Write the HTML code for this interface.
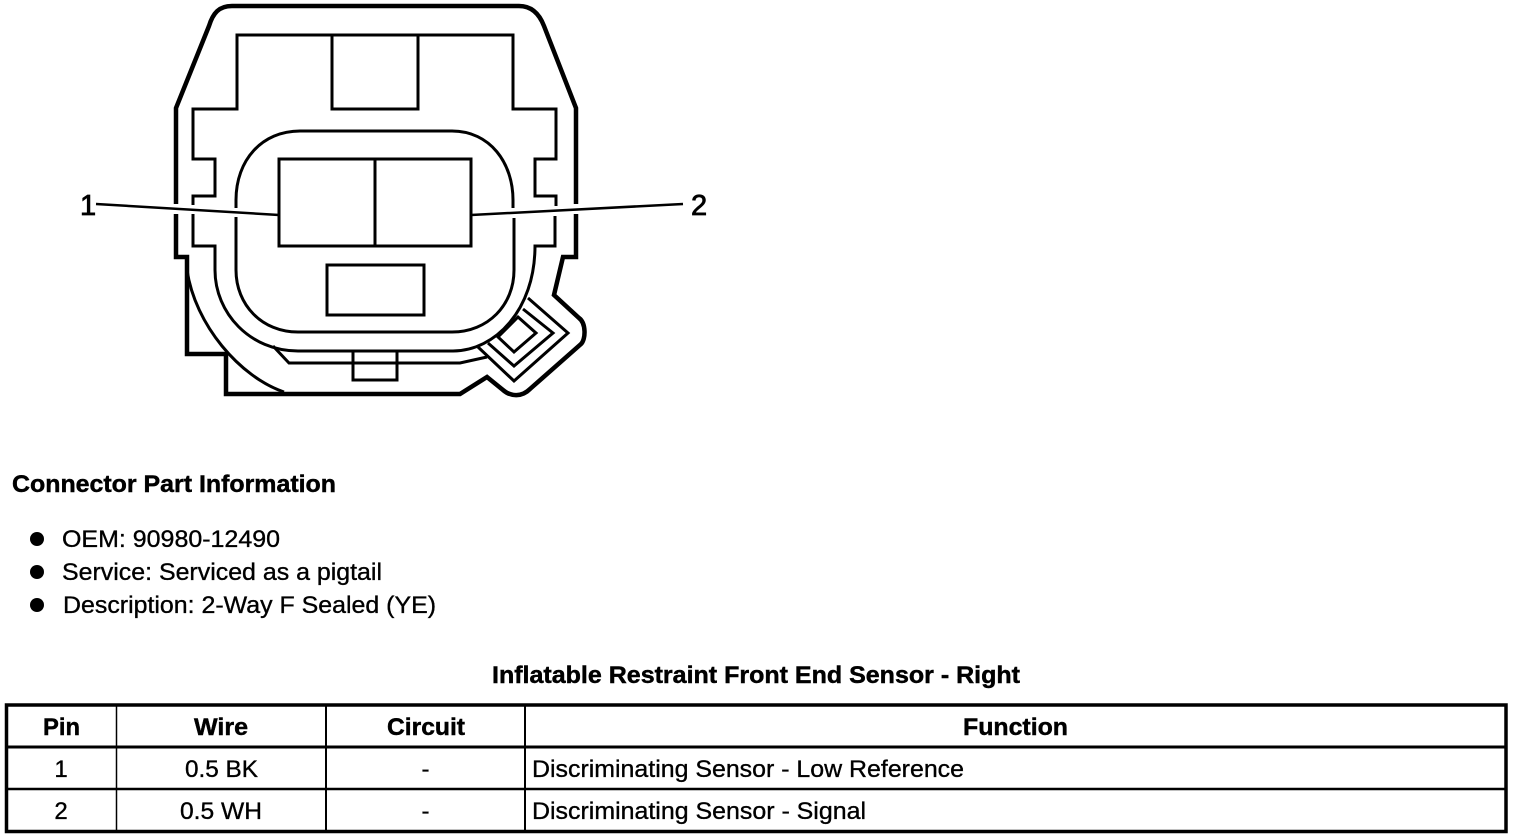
<!DOCTYPE html>
<html>
<head>
<meta charset="utf-8">
<style>
html,body{margin:0;padding:0;background:#fff;width:1520px;height:838px;overflow:hidden}
svg{display:block}
text{font-family:"Liberation Sans",sans-serif;font-size:24px;fill:#000;stroke:#000;stroke-width:.35px}
.b{font-weight:bold;stroke-width:.45px}
.c{text-anchor:middle}
</style>
</head>
<body>
<svg width="1520" height="838" viewBox="0 0 1520 838" xmlns="http://www.w3.org/2000/svg">
<g fill="none" stroke="#000" stroke-linejoin="miter">
<g stroke-width="4.5">
<path d="M176 204V108L209 26C213 13 219 6 232 6H519C531 6 539 13 544 26L576 108V204"/>
<path d="M176 214V257H187V354H226V394H460L487 377L503 390C511 397 522 397 530 389L581 344C586 339 586 323 579 318L554 295L563 257H576V214"/>
</g>
<g stroke-width="3">
<path d="M193 205V196H215V159H193V109H237V35H513V109H556V159H535V196H556V206"/>
<path d="M332 35V109H418V35"/>
<path d="M193 214V246H215V270C215 313 250 351 298 351H453C495 351 535 310 535 246H555V216"/>
<path d="M236 208V200C236 160 262 131 300 131H452C490 131 513 163 513 200V208"/>
<path d="M236 217V270C236 305 262 332 298 332H452C488 332 514 305 514 270V218"/>
<path d="M279 159H471V246H279ZM375 159V246"/>
<rect x="327" y="265" width="97" height="50"/>
<path d="M187 270C195 325 240 377 284 392"/>
<path d="M273 346L289 363H460L487 357"/>
<path d="M353 352V380H397V352"/>
<path d="M528 298L568 333L514 381L478 347"/>
<path d="M523 309L553 333L514 366L488 343"/>
<path d="M518 317L536 333L514 352L498 337Z"/>
</g>
<path d="M96 204L279 215" stroke-width="2.5"/>
<path d="M471 215L683 204" stroke-width="2.5"/>
</g>
<text x="80" y="215" style="font-size:29px;stroke-width:.8px">1</text>
<text x="691" y="215" style="font-size:29px;stroke-width:.8px">2</text>

<text class="b" x="12" y="492" textLength="324" lengthAdjust="spacingAndGlyphs">Connector Part Information</text>
<circle cx="37" cy="539" r="7"/>
<circle cx="37" cy="572" r="7"/>
<circle cx="37" cy="605" r="7"/>
<text x="62" y="547" textLength="218" lengthAdjust="spacingAndGlyphs">OEM: 90980-12490</text>
<text x="62" y="580" textLength="320" lengthAdjust="spacingAndGlyphs">Service: Serviced as a pigtail</text>
<text x="63" y="613" textLength="373" lengthAdjust="spacingAndGlyphs">Description: 2-Way F Sealed (YE)</text>
<text class="b" x="492" y="683" textLength="528" lengthAdjust="spacingAndGlyphs">Inflatable Restraint Front End Sensor - Right</text>

<g fill="none" stroke="#000">
<rect x="6.500" y="705" width="1499.500" height="126.500" stroke-width="3.500"/>
<path d="M6 747H1506" stroke-width="3"/>
<path d="M6 789H1506" stroke-width="2.500"/>
<path d="M116.500 705V831" stroke-width="1.500"/>
<path d="M326 705V831" stroke-width="2"/>
<path d="M525 705V831" stroke-width="2"/>
</g>
<text class="b c" x="61.500" y="735" textLength="37" lengthAdjust="spacingAndGlyphs">Pin</text>
<text class="b c" x="221" y="735" textLength="54" lengthAdjust="spacingAndGlyphs">Wire</text>
<text class="b c" x="426" y="735" textLength="78" lengthAdjust="spacingAndGlyphs">Circuit</text>
<text class="b c" x="1015.500" y="735" textLength="105" lengthAdjust="spacingAndGlyphs">Function</text>
<text class="c" x="61" y="777">1</text>
<text class="c" x="221.500" y="777" textLength="73" lengthAdjust="spacingAndGlyphs">0.5 BK</text>
<text class="c" x="425.500" y="777">-</text>
<text x="532" y="777" textLength="432" lengthAdjust="spacingAndGlyphs">Discriminating Sensor - Low Reference</text>
<text class="c" x="61" y="819">2</text>
<text class="c" x="221" y="819" textLength="82" lengthAdjust="spacingAndGlyphs">0.5 WH</text>
<text class="c" x="425.500" y="819">-</text>
<text x="532" y="819" textLength="334" lengthAdjust="spacingAndGlyphs">Discriminating Sensor - Signal</text>
</svg>
</body>
</html>
